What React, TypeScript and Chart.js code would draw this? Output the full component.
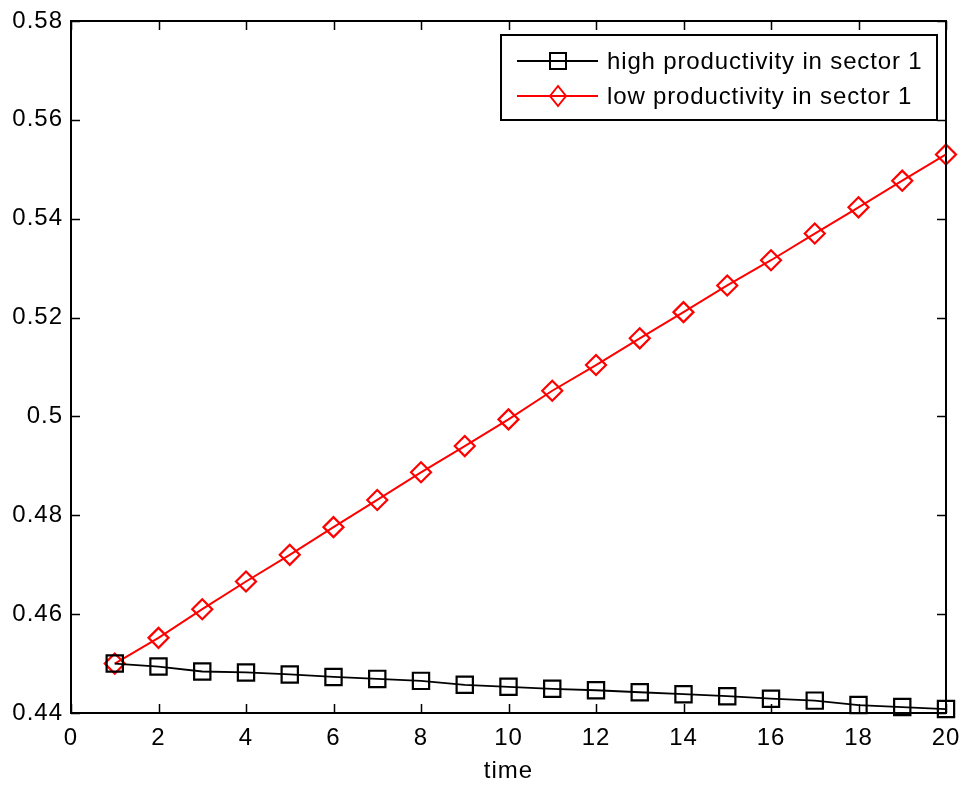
import React, { useEffect, useRef } from "react";
import { Chart, registerables } from "chart.js";

Chart.register(...registerables);

const timeSteps = [1, 2, 3, 4, 5, 6, 7, 8, 9, 10, 11, 12, 13, 14, 15, 16, 17, 18, 19, 20];
const highProductivity = [
  0.4500, 0.4494, 0.4484, 0.4482, 0.4478, 0.4473, 0.4469, 0.4465, 0.4457, 0.4453,
  0.4449, 0.4446, 0.4442, 0.4438, 0.4434, 0.4429, 0.4425, 0.4416, 0.4412, 0.4408,
];
const lowProductivity = [
  0.4500, 0.4552, 0.4610, 0.4666, 0.4720, 0.4776, 0.4831, 0.4887, 0.4940, 0.4994,
  0.5052, 0.5104, 0.5158, 0.5211, 0.5265, 0.5316, 0.5370, 0.5423, 0.5477, 0.5530,
];
const xTicks = [0, 2, 4, 6, 8, 10, 12, 14, 16, 18, 20];
const yTicks = [0.44, 0.46, 0.48, 0.5, 0.52, 0.54, 0.56, 0.58];
const seriesNames = ["high productivity in sector 1", "low productivity in sector 1"];
const xTitle = "time";

const FONT = "'Liberation Sans', Arial, Helvetica, sans-serif";
const FONT_SIZE = 24;
const LETTER_SPACING = "1px";

const spacingPlugin = {
  id: "spacing",
  beforeUpdate(chart: any) {
    chart.ctx.letterSpacing = LETTER_SPACING;
  },
  beforeLayout(chart: any) {
    chart.ctx.letterSpacing = LETTER_SPACING;
  },
  beforeDraw(chart: any) {
    chart.ctx.letterSpacing = LETTER_SPACING;
  },
};

const frameAndLegend = {
  id: "frameAndLegend",
  afterDraw(chart: any) {
    const { ctx, chartArea, scales } = chart;
    const { left, right, top, bottom } = chartArea;
    ctx.save();
    ctx.strokeStyle = "#000";
    ctx.lineWidth = 1.5;
    const tl = 9;
    ctx.beginPath();
    for (const v of xTicks) {
      const px = Math.round(scales.x.getPixelForValue(v)) + 0.5;
      ctx.moveTo(px, bottom);
      ctx.lineTo(px, bottom - tl);
      ctx.moveTo(px, top);
      ctx.lineTo(px, top + tl);
    }
    for (const v of yTicks) {
      const py = Math.round(scales.y.getPixelForValue(v)) + 0.5;
      ctx.moveTo(left, py);
      ctx.lineTo(left + tl, py);
      ctx.moveTo(right, py);
      ctx.lineTo(right - tl, py);
    }
    ctx.stroke();
    ctx.lineWidth = 2;
    ctx.strokeRect(left, top, right - left, bottom - top);

    // legend
    const lx = 501, ly = 35, lw = 436, lh = 85;
    ctx.fillStyle = "#fff";
    ctx.fillRect(lx, ly, lw, lh);
    ctx.lineWidth = 2;
    ctx.strokeStyle = "#000";
    ctx.strokeRect(lx, ly, lw, lh);
    const rows = [
      { y: 61, color: "#000000", shape: "square" },
      { y: 96, color: "#ff0000", shape: "diamond" },
    ];
    ctx.font = `${FONT_SIZE}px ${FONT}`;
    ctx.letterSpacing = "0.85px";
    ctx.textBaseline = "middle";
    ctx.textAlign = "left";
    rows.forEach((r, i) => {
      ctx.strokeStyle = r.color;
      ctx.lineWidth = 1.8;
      ctx.beginPath();
      ctx.moveTo(517, r.y);
      ctx.lineTo(598, r.y);
      ctx.stroke();
      const cx = 558;
      ctx.lineWidth = 2;
      ctx.beginPath();
      if (r.shape === "square") {
        ctx.rect(cx - 8, r.y - 8, 16, 16);
      } else {
        ctx.moveTo(cx - 8, r.y);
        ctx.lineTo(cx, r.y - 10);
        ctx.lineTo(cx + 8, r.y);
        ctx.lineTo(cx, r.y + 10);
        ctx.closePath();
      }
      ctx.stroke();
      ctx.fillStyle = "#000";
      ctx.fillText(seriesNames[i], 607, r.y + 1);
    });
    ctx.restore();
  },
};

export default function App() {
  const canvasRef = useRef<HTMLCanvasElement | null>(null);

  useEffect(() => {
    const canvas = canvasRef.current;
    if (!canvas) return;
    const chart = new Chart(canvas, {
      type: "line",
      data: {
        datasets: [
          {
            label: seriesNames[0],
            data: timeSteps.map((t, i) => ({ x: t, y: highProductivity[i] })),
            borderColor: "#000000",
            backgroundColor: "rgba(0,0,0,0)",
            borderWidth: 1.8,
            pointStyle: "rect",
            pointRadius: 11.5,
            pointBorderWidth: 2.2,
            pointBorderColor: "#000000",
            pointBackgroundColor: "rgba(0,0,0,0)",
            tension: 0,
            clip: false as any,
          },
          {
            label: seriesNames[1],
            data: timeSteps.map((t, i) => ({ x: t, y: lowProductivity[i] })),
            borderColor: "#ff0000",
            backgroundColor: "rgba(0,0,0,0)",
            borderWidth: 2,
            pointStyle: "rectRot",
            pointRadius: 10,
            pointBorderWidth: 2.2,
            pointBorderColor: "#ff0000",
            pointBackgroundColor: "rgba(0,0,0,0)",
            tension: 0,
            clip: false as any,
          },
        ],
      },
      options: {
        responsive: false,
        animation: false,
        devicePixelRatio: 1,
        layout: { padding: { left: 0, right: 20, top: 21, bottom: 0 } },
        plugins: {
          legend: { display: false },
          tooltip: { enabled: false },
        },
        scales: {
          x: {
            type: "linear",
            min: 0,
            max: 20,
            afterBuildTicks: (scale: any) => {
              scale.ticks = xTicks.map((v) => ({ value: v }));
            },
            afterFit: (scale: any) => {
              scale.height = 73;
              scale.paddingLeft = 0;
              scale.paddingRight = 0;
            },
            grid: { display: false, drawTicks: false },
            border: { display: false },
            ticks: {
              color: "#000",
              padding: 11,
              maxRotation: 0,
              autoSkip: false,
              font: { family: FONT, size: FONT_SIZE },
              callback: (v: any) => String(v),
            },
            title: {
              display: true,
              text: xTitle,
              color: "#000",
              font: { family: FONT, size: FONT_SIZE },
              padding: { top: 2, bottom: 0 },
            },
          },
          y: {
            type: "linear",
            min: 0.44,
            max: 0.58,
            afterBuildTicks: (scale: any) => {
              scale.ticks = yTicks.map((v) => ({ value: v }));
            },
            afterFit: (scale: any) => {
              scale.width = 71;
              scale.paddingTop = 0;
              scale.paddingBottom = 0;
            },
            grid: { display: false, drawTicks: false },
            border: { display: false },
            ticks: {
              color: "#000",
              padding: 8,
              autoSkip: false,
              font: { family: FONT, size: FONT_SIZE },
              callback: (v: any) => String(Number(Number(v).toFixed(2))),
            },
          },
        },
      },
      plugins: [spacingPlugin, frameAndLegend],
    });
    return () => chart.destroy();
  }, []);

  return (
    <div style={{ position: "absolute", left: 0, top: 0, width: 966, height: 786, background: "#fff" }}>
      <canvas ref={canvasRef} width={966} height={786} style={{ display: "block" }} />
    </div>
  );
}
